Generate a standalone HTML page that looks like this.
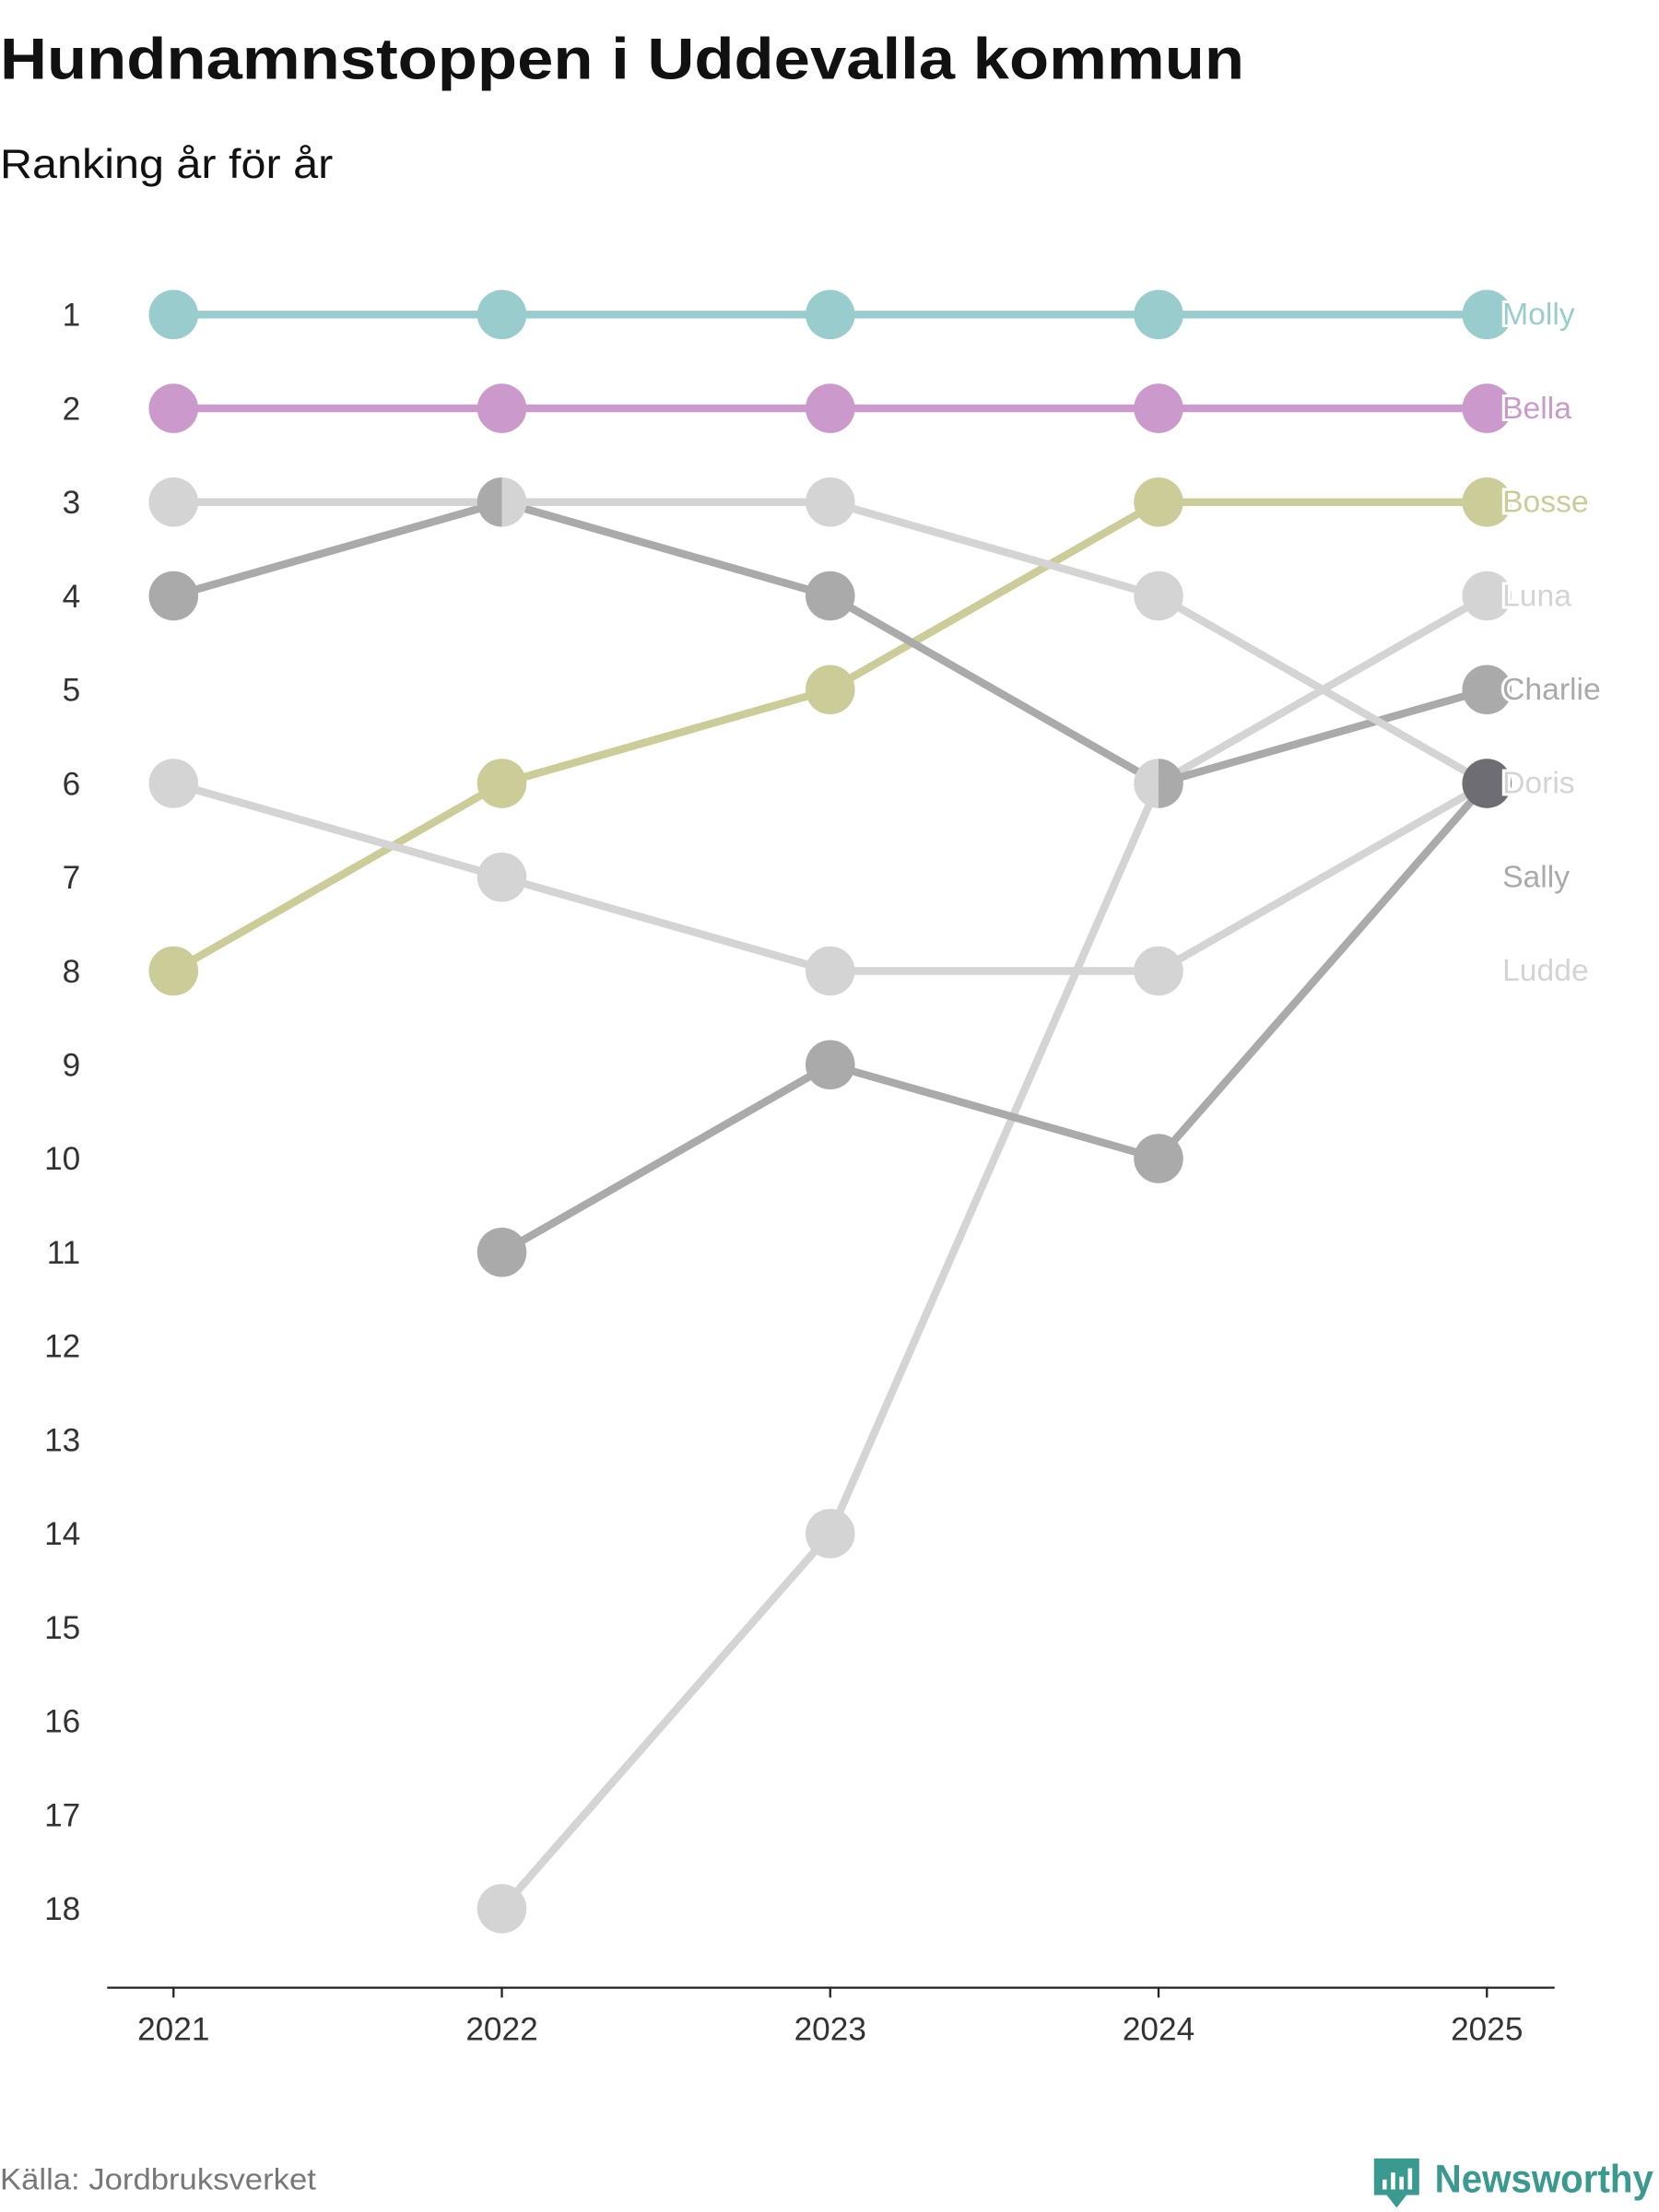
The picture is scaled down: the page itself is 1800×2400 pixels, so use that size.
<!DOCTYPE html>
<html><head><meta charset="utf-8"><style>
html,body{margin:0;padding:0;background:#fff;}
svg{display:block;font-family:"Liberation Sans",sans-serif;}
</style></head><body>
<svg id="chart" width="1800" height="2400" viewBox="0 0 1176 1568" xmlns="http://www.w3.org/2000/svg">
<text x="0" y="56" font-size="41" font-weight="bold" fill="#111" textLength="882" lengthAdjust="spacingAndGlyphs">Hundnamnstoppen i Uddevalla kommun</text>
<text x="0" y="126" font-size="29" fill="#111" textLength="236" lengthAdjust="spacingAndGlyphs">Ranking år för år</text>
<g id="axes"></g>
<g id="lines"></g>
<g id="dots"></g>
<g id="labels"></g>
<text x="0" y="1552" font-size="21" fill="#777" textLength="224" lengthAdjust="spacingAndGlyphs">Källa: Jordbruksverket</text>
<g>
<path d="M974 1530 h32 v26 h-9 l-7 9 l-7 -9 h-9 z" fill="#3a9a8f"/>
<rect x="980" y="1545" width="3" height="7" fill="#fff"/><rect x="986" y="1540" width="3" height="12" fill="#fff"/><rect x="992" y="1543" width="3" height="9" fill="#fff"/><rect x="998" y="1537" width="3" height="15" fill="#fff"/>
<text x="1017" y="1554" font-size="28" font-weight="bold" fill="#3a9a8f" textLength="155" lengthAdjust="spacingAndGlyphs">Newsworthy</text>
</g>
</svg>
<script>
const years = [2021, 2022, 2023, 2024, 2025];
const names = ["Molly", "Bella", "Bosse", "Luna", "Charlie", "Doris", "Sally", "Ludde"];
const rankMolly = [1, 1, 1, 1, 1];
const rankBella = [2, 2, 2, 2, 2];
const rankBosse = [8, 6, 5, 3, 3];
const rankLuna = [null, 18, 14, 6, 4];
const rankCharlie = [4, 3, 4, 6, 5];
const rankDoris = [3, 3, 3, 4, 6];
const rankSally = [null, 11, 9, 10, 6];
const rankLudde = [6, 7, 8, 8, 6];
const yTicks = [1,2,3,4,5,6,7,8,9,10,11,12,13,14,15,16,17,18];
const ranks = [rankMolly, rankBella, rankBosse, rankLuna, rankCharlie, rankDoris, rankSally, rankLudde];
const colors = ["#99cccc","#cc99cc","#cccc99","#d4d4d4","#aaaaaa","#d4d4d4","#aaaaaa","#d4d4d4"];
const NS="http://www.w3.org/2000/svg";
const xS = i => 123 + i*(1054-123)/(years.length-1);
const yS = r => 223 + (r-1)*(1353-223)/17;
function mk(tag, attrs, parent){const e=document.createElementNS(NS,tag);for(const k in attrs)e.setAttribute(k,attrs[k]);parent.appendChild(e);return e;}
const axes=document.getElementById('axes'), lines=document.getElementById('lines'), dots=document.getElementById('dots'), labels=document.getElementById('labels');
let ax=mk('line',{x1:76,x2:1102,y1:1409,y2:1409,stroke:'#222','stroke-width':1.5},axes);


years.forEach((yr,i)=>{
  const t=mk('line',{x1:xS(i),x2:xS(i),y1:1409,y2:1416,stroke:'#222','stroke-width':1.5},axes);
  
  
  const l=mk('text',{x:xS(i),y:1446,'text-anchor':'middle','font-size':23,fill:'#333'},axes);
  l.textContent=yr;
  
  
});
yTicks.forEach(r=>{
  const l=mk('text',{x:57,y:yS(r)+8,'text-anchor':'end','font-size':23,fill:'#333'},axes);
  l.textContent=r;
  
  
});
ranks.forEach((rk,s)=>{
  let d='';
  rk.forEach((r,i)=>{ if(r==null) return; d+=(d?'L':'M')+xS(i)+' '+yS(r)+' '; });
  const p=mk('path',{d:d,fill:'none',stroke:colors[s],'stroke-width':5.5},lines);
  
  
});
years.forEach((yr,i)=>{
  const groups={};
  ranks.forEach((rk,s)=>{ if(rk[i]!=null){(groups[rk[i]]=groups[rk[i]]||[]).push(s);} });
  for(const r in groups){
    const g=groups[r], cx=xS(i), cy=yS(+r), R=17.5;
    if(g.length===1){
      const c=mk('circle',{cx:cx,cy:cy,r:R,fill:colors[g[0]]},dots);
      
      
    } else if(g.length===2){
      const sortedByShade = i===1 ? g.slice().sort((p,q)=>colors[p]==='#aaaaaa'?-1:1) : g.slice().sort((p,q)=>colors[p]==='#aaaaaa'?1:-1);
      const h1=mk('path',{d:`M${cx} ${cy-R} A${R} ${R} 0 0 0 ${cx} ${cy+R} Z`,fill:colors[sortedByShade[0]]},dots);
      
      
      const h2=mk('path',{d:`M${cx} ${cy-R} A${R} ${R} 0 0 1 ${cx} ${cy+R} Z`,fill:colors[sortedByShade[1]]},dots);
      
      
    } else {
      const c=mk('circle',{cx:cx,cy:cy,r:R,fill:'#6e6d73'},dots);
      
      
    }
  }
});
const last=years.length-1;
const order=ranks.map((rk,s)=>s).sort((a,b)=>ranks[a][last]-ranks[b][last]||a-b);
let prev=0;
order.forEach(s=>{
  const slot=Math.max(ranks[s][last],prev+1); prev=slot;
  const t=mk('text',{x:1065,y:yS(slot)+7,'font-size':22,fill:colors[s],stroke:'#fff','stroke-width':4,'paint-order':'stroke'},labels);
  t.textContent=names[s];
  
  
});
</script>
</body></html>
